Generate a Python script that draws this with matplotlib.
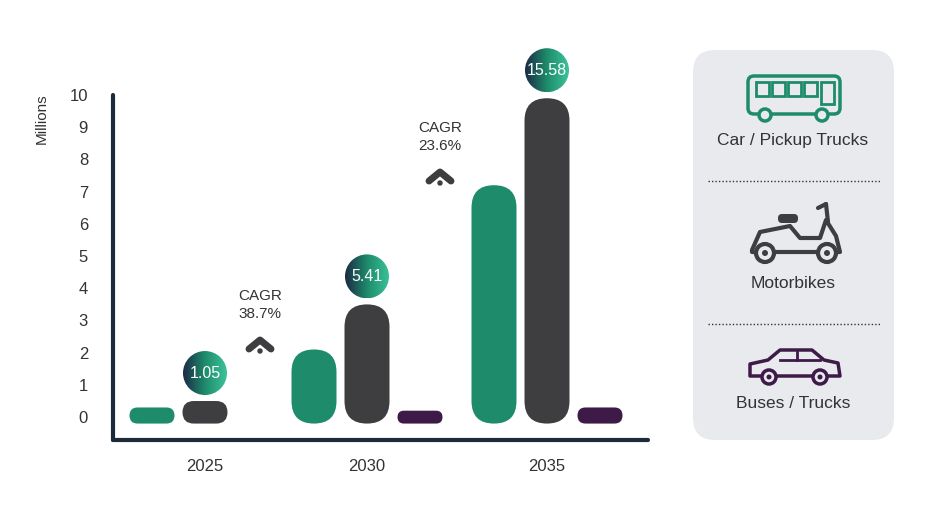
import matplotlib
matplotlib.use('Agg')
import matplotlib.pyplot as plt
import numpy as np
from matplotlib.patches import FancyBboxPatch, Circle, Rectangle, Polygon
from matplotlib.transforms import IdentityTransform

# data
years = ['2025', '2030', '2035']
cars = [0.3, 2.1, 7.2]
motorbikes = [0.5, 3.5, 9.9]
buses = [0.0, 0.08, 0.3]
totals = ['1.05', '5.41', '15.58']
cagr = ['CAGR\n38.7%', 'CAGR\n23.6%']
y_ticks = list(range(0, 11))

GREEN = '#1e8c6b'
DARK = '#3e3e40'
PURPLE = '#3d1a47'
NAVY = '#1c2b3a'

plt.rcParams['font.family'] = ['Liberation Sans', 'DejaVu Sans']

fig = plt.figure(figsize=(9.34, 5.07), dpi=100)
W, H = 934, 507
ax = fig.add_axes([113 / W, 1 - 440 / H, 535 / W, 345 / H])
ax.set_xlim(113, 648)
ax.set_ylim(-0.71, 10.0)
for s in ['top', 'right']:
    ax.spines[s].set_visible(False)
for s in ['left', 'bottom']:
    ax.spines[s].set_color(NAVY)
    ax.spines[s].set_linewidth(3)
    ax.spines[s].set_capstyle('round')
ax.set_yticks(y_ticks)
ax.tick_params(axis='y', length=0, labelsize=12, colors='#333333', pad=18)
group_x = [205, 367, 547]
ax.set_xticks(group_x)
ax.set_xticklabels(years)
ax.tick_params(axis='x', length=0, labelsize=12, colors='#333333', pad=14)
ax.set_ylabel('Millions', fontsize=11, color='#333333', labelpad=26)
ax.yaxis.set_label_coords(-0.12, 0.93)

bw = 45
base = -0.2


def pill(x, v, color):
    x0, y0 = ax.transData.transform((x - bw / 2, base))
    x1, y1 = ax.transData.transform((x + bw / 2, max(v, 0.2)))
    r = min(x1 - x0, y1 - y0) / 2
    p = FancyBboxPatch((x0, y0), x1 - x0, y1 - y0,
                       boxstyle=f"round,pad=0,rounding_size={r}",
                       transform=IdentityTransform(), fc=color, ec='none')
    fig.patches.append(p)


for i, gx in enumerate(group_x):
    if cars[i] > 0:
        pill(gx - 53, cars[i], GREEN)
    pill(gx, motorbikes[i], DARK)
    if buses[i] > 0:
        pill(gx + 53, buses[i], PURPLE)

# gradient bubbles
grad = np.linspace(0, 1, 64)[None, :] * np.ones((64, 1))
cmap = matplotlib.colors.LinearSegmentedColormap.from_list('g', ['#1c2b46', '#1e8c6b', '#3cc29a'])
for i, gx in enumerate(group_x):
    cx, cy = ax.transData.transform((gx, motorbikes[i]))
    r = 22
    cy = cy + 28
    bax = fig.add_axes([(cx - r) / W, (cy - r) / H, 2 * r / W, 2 * r / H])
    bax.axis('off')
    im = bax.imshow(grad, cmap=cmap, extent=(0, 1, 0, 1), aspect='auto')
    c = Circle((0.5, 0.5), 0.5, transform=bax.transAxes)
    im.set_clip_path(c)
    bax.text(0.5, 0.5, totals[i], color='white', fontsize=11.5,
             ha='center', va='center', transform=bax.transAxes)

# overlay in pixel coords
ov = fig.add_axes([0, 0, 1, 1], zorder=-1)
ov.set_xlim(0, W)
ov.set_ylim(H, 0)
ov.axis('off')
ov2 = fig.add_axes([0, 0, 1, 1], zorder=5)
ov2.set_xlim(0, W)
ov2.set_ylim(H, 0)
ov2.axis('off')

for (tx, ty), lab in zip([(260, 305), (440, 137)], cagr):
    ov2.text(tx, ty, lab, ha='center', va='center', fontsize=11,
             color='#333333', linespacing=1.3)
    ov2.plot([tx - 11, tx, tx + 11], [ty + 44, ty + 35, ty + 44], color=DARK,
             lw=5, solid_capstyle='round', solid_joinstyle='round')
    ov2.add_patch(Circle((tx, ty + 46), 2, color=DARK))

# right panel
ov.add_patch(FancyBboxPatch((693, 50), 201, 390, boxstyle="round,pad=0,rounding_size=22",
                            fc='#e8eaed', ec='none'))
for yy in [181, 324]:
    ov2.plot([708, 880], [yy, yy], color='#333333', lw=1, ls=(0, (1, 1.5)))
ov2.text(793, 140, 'Car / Pickup Trucks', ha='center', va='center', fontsize=12.5, color='#333333')
ov2.text(793, 284, 'Motorbikes', ha='center', va='center', fontsize=12.5, color='#333333')
ov2.text(793, 404, 'Buses / Trucks', ha='center', va='center', fontsize=12.5, color='#333333')

# bus icon
ov2.add_patch(FancyBboxPatch((748, 76), 92, 38, boxstyle="round,pad=0,rounding_size=6",
                             fc='none', ec=GREEN, lw=2.5))
for wx in [756, 772, 788, 804]:
    ov2.add_patch(Rectangle((wx, 82), 13, 14, fc='none', ec=GREEN, lw=2))
ov2.add_patch(Rectangle((821, 82), 13, 22, fc='none', ec=GREEN, lw=2))
for wx in [765, 822]:
    ov2.add_patch(Circle((wx, 115), 6, fc='#e8eaed', ec=GREEN, lw=2.5))

# scooter icon
ov2.add_patch(Polygon([[752, 250], [760, 232], [790, 226], [800, 238], [820, 238],
                       [826, 220], [836, 236], [840, 252], [752, 252]],
                      closed=True, fc='none', ec=DARK, lw=3, joinstyle='round'))
ov2.add_patch(FancyBboxPatch((778, 214), 20, 9, boxstyle="round,pad=0,rounding_size=4",
                             fc=DARK, ec='none'))
ov2.plot([818, 826], [208, 204], color=DARK, lw=3, solid_capstyle='round')
ov2.plot([826, 828], [204, 222], color=DARK, lw=3, solid_capstyle='round')
for wx in [765, 827]:
    ov2.add_patch(Circle((wx, 253), 9, fc='#e8eaed', ec=DARK, lw=3))
    ov2.add_patch(Circle((wx, 253), 3, fc=DARK, ec='none'))

# car icon
ov2.add_patch(Polygon([[750, 376], [750, 364], [768, 360], [780, 350], [812, 350],
                       [824, 360], [838, 363], [840, 376]],
                      closed=True, fc='none', ec=PURPLE, lw=2.5, joinstyle='round'))
ov2.plot([780, 820], [360, 360], color=PURPLE, lw=2)
ov2.plot([797, 797], [351, 360], color=PURPLE, lw=2)
for wx in [769, 820]:
    ov2.add_patch(Circle((wx, 377), 7, fc='#e8eaed', ec=PURPLE, lw=2.5))
    ov2.add_patch(Circle((wx, 377), 2.5, fc=PURPLE, ec='none'))

fig.savefig('out.png', dpi=100)
